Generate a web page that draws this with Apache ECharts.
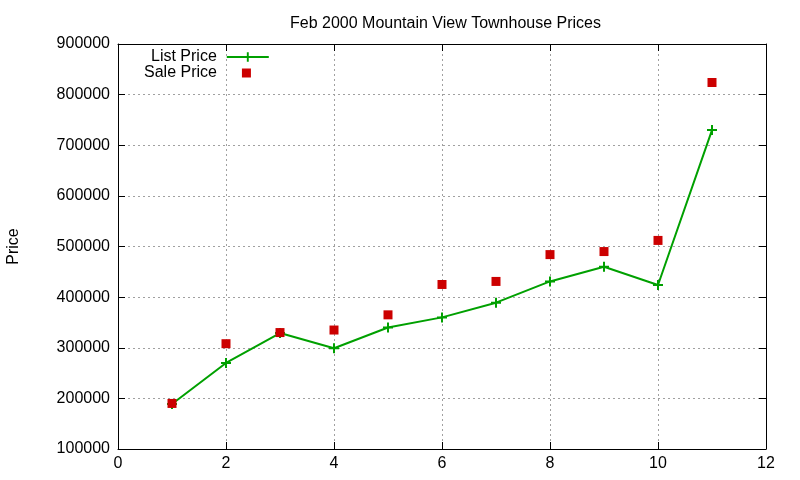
<!DOCTYPE html>
<html>
<head>
<meta charset="utf-8">
<script src="https://cdn.jsdelivr.net/npm/echarts@6/dist/echarts.min.js"></script>
<style>
  html, body { margin: 0; padding: 0; background: #fff; }
  #chart { width: 800px; height: 480px; }
</style>
</head>
<body>
<div id="chart"></div>
<script>
const months = [1, 2, 3, 4, 5, 6, 7, 8, 9, 10, 11];
const listPrice = [189000, 270000, 329000, 299000, 340000, 360000, 389000, 431000, 460000, 424000, 730000];
const salePrice = [190000, 308000, 330000, 335000, 365000, 425000, 431000, 484000, 490000, 512000, 824000];

const FONT = "Liberation Sans, Arial, sans-serif";
const PLUS = "path://M4,0h2v4h4v2h-4v4h-2v-4h-4v-2h4z";

const chart = echarts.init(document.getElementById("chart"), null, { renderer: "canvas" });

const gridLine = { show: true, lineStyle: { color: "#a0a0a0", type: [2, 3], width: 1 } };
const legendText = (pad) => ({ fontFamily: FONT, fontSize: 16, color: "#000", padding: [0, pad, 0, 0] });

chart.setOption({
  animation: false,
  backgroundColor: "#fff",
  title: {
    text: "Feb 2000 Mountain View Townhouse Prices",
    left: 285, top: 11,
    textStyle: { fontFamily: FONT, fontSize: 16, fontWeight: "normal", color: "#000" },
  },
  legend: [{
    orient: "vertical", left: 151, top: 49, padding: 0,
    align: "right", itemWidth: 42, itemHeight: 12,
    textStyle: legendText(5),
    data: ["List Price"],
  }, {
    orient: "vertical", left: 144, top: 65, padding: 0,
    align: "right", itemWidth: 9, itemHeight: 9,
    textStyle: legendText(20),
    data: ["Sale Price"],
  }],
  grid: { left: 118, right: 34, top: 44, bottom: 31, containLabel: false, outerBoundsMode: "none" },
  xAxis: [{
    type: "value", min: 0, max: 12, interval: 2,
    axisLine: { show: true, onZero: false, lineStyle: { color: "#000", width: 1 } },
    axisTick: { show: true, inside: true, length: 7, lineStyle: { color: "#000" } },
    axisLabel: { fontFamily: FONT, fontSize: 16, color: "#000", margin: 7 },
    splitLine: gridLine,
  }, {
    type: "value", min: 0, max: 12, interval: 2, position: "top",
    axisLine: { show: true, onZero: false, lineStyle: { color: "#000", width: 1 } },
    axisTick: { show: true, inside: true, length: 7, lineStyle: { color: "#000" } },
    axisLabel: { show: false }, splitLine: { show: false },
  }],
  yAxis: [{
    type: "value", min: 100000, max: 900000, interval: 100000,
    name: "Price", nameLocation: "middle", nameGap: 96, nameRotate: 90,
    nameTextStyle: { fontFamily: FONT, fontSize: 16, color: "#000" },
    axisLine: { show: true, onZero: false, lineStyle: { color: "#000", width: 1 } },
    axisTick: { show: true, inside: true, length: 7, lineStyle: { color: "#000" } },
    axisLabel: { fontFamily: FONT, fontSize: 16, color: "#000", margin: 8, formatter: v => String(v) },
    splitLine: gridLine,
  }, {
    type: "value", min: 100000, max: 900000, interval: 100000, position: "right",
    axisLine: { show: true, onZero: false, lineStyle: { color: "#000", width: 1 } },
    axisTick: { show: true, inside: true, length: 7, lineStyle: { color: "#000" } },
    axisLabel: { show: false }, splitLine: { show: false },
  }],
  series: [{
    name: "List Price",
    type: "line",
    data: months.map((m, i) => [m, listPrice[i]]),
    lineStyle: { color: "#00a000", width: 2 },
    itemStyle: { color: "#00a000" },
    symbol: PLUS, symbolSize: 10, showAllSymbol: true,
    z: 2,
  }, {
    name: "Sale Price",
    type: "scatter",
    data: months.map((m, i) => [m, salePrice[i]]),
    itemStyle: { color: "#cc0000", opacity: 1 },
    symbol: "rect", symbolSize: 9,
    z: 3,
  }],
});
</script>
</body>
</html>
